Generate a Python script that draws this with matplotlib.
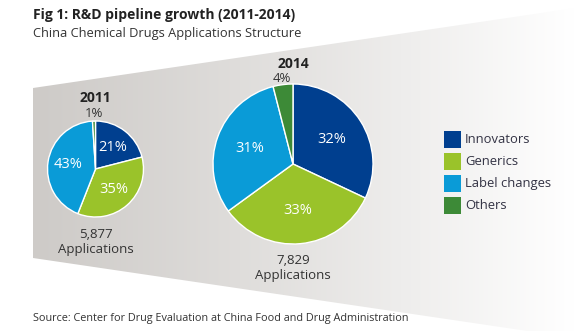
import numpy as np
from matplotlib import pyplot as plt
from matplotlib.patches import Polygon, Rectangle

plt.rcParams['font.family'] = ['Open Sans', 'DejaVu Sans']

# data
categories = ['Innovators', 'Generics', 'Label changes', 'Others']
colors = ['#003f8f', '#9ac32a', '#0a9bd7', '#3d8a37']
share_2011 = [21, 35, 43, 1]
share_2014 = [32, 33, 31, 4]
total_2011 = '5,877'
total_2014 = '7,829'

W, H = 575, 331
fig = plt.figure(figsize=(W / 100, H / 100), dpi=100)
ax = fig.add_axes([0, 0, 1, 1])
ax.set_xlim(0, W)
ax.set_ylim(0, H)
ax.axis('off')

def Y(y):
    # pixel row (from top) -> data y
    return H - y

# gray band fading to white
band = Polygon([(33, Y(88)), (W, Y(8)), (W, Y(338)), (33, Y(258))],
               closed=True, facecolor='none', edgecolor='none')
ax.add_patch(band)
t = np.linspace(0, 1, 256) ** 1.1
left = np.array([206, 203, 200]) / 255
grad = left[None, :] + (1 - left[None, :]) * t[:, None]
img = ax.imshow(grad[None, :, :], extent=[33, W, Y(340), Y(5)],
                aspect='auto', zorder=1)
img.set_clip_path(band)


def draw_pie(values, cx, cy, r, pct_dist, year, total, top_gap, out_gap):
    wedges, texts, autotexts = ax.pie(
        values, colors=colors, startangle=90, counterclock=False,
        center=(cx, Y(cy)), radius=r, autopct='%d%%', pctdistance=pct_dist,
        wedgeprops=dict(edgecolor='white', linewidth=1.0),
        textprops=dict(color='white', fontsize=10.5), frame=True)
    for w in wedges:
        w.set_zorder(3)
    for a in autotexts:
        a.set_zorder(4)
    # small "Others" share sits above the pie
    a = autotexts[-1]
    th = np.deg2rad((wedges[-1].theta1 + wedges[-1].theta2) / 2)
    a.set_position((cx + (r + out_gap) * np.cos(th),
                    Y(cy) + (r + out_gap) * np.sin(th)))
    a.set_color('#333333')
    a.set_fontsize(9.5)
    ax.text(cx, Y(cy) + r + top_gap, year, ha='center', va='center',
            fontsize=10, fontweight='bold', color='#222222', zorder=4)
    ax.text(cx, Y(cy) - r - 17, total, ha='center', va='center',
            fontsize=9.5, color='#333333', zorder=4)
    ax.text(cx, Y(cy) - r - 32, 'Applications', ha='center', va='center',
            fontsize=9.5, color='#333333', zorder=4)


draw_pie(share_2011, 95.5, 169, 48, 0.58, '2011', total_2011, 23, 8)
draw_pie(share_2014, 293, 164, 80, 0.58, '2014', total_2014, 20, 6)

ax.set_xlim(0, W)
ax.set_ylim(0, H)
ax.set_aspect('auto')
ax.axis('off')

# legend
for i, (c, name) in enumerate(zip(colors, categories)):
    y0 = 131 + i * 22
    ax.add_patch(Rectangle((444, Y(y0 + 17)), 17, 17, facecolor=c,
                           edgecolor='none', zorder=4))
    ax.text(465, Y(y0 + 8.5), name, ha='left', va='center', fontsize=9.4,
            color='#333344', zorder=4)

# titles
fig.text(33 / W, 1 - 15 / H, 'Fig 1: R&D pipeline growth (2011-2014)',
         ha='left', va='center', fontsize=10, fontweight='bold', color='#222222')
fig.text(33 / W, 1 - 34 / H, 'China Chemical Drugs Applications Structure',
         ha='left', va='center', fontsize=9.3, color='#333333')
fig.text(33 / W, 1 - 318 / H,
         'Source: Center for Drug Evaluation at China Food and Drug Administration',
         ha='left', va='center', fontsize=7.8, color='#333333')

fig.savefig('out.png', dpi=100)
